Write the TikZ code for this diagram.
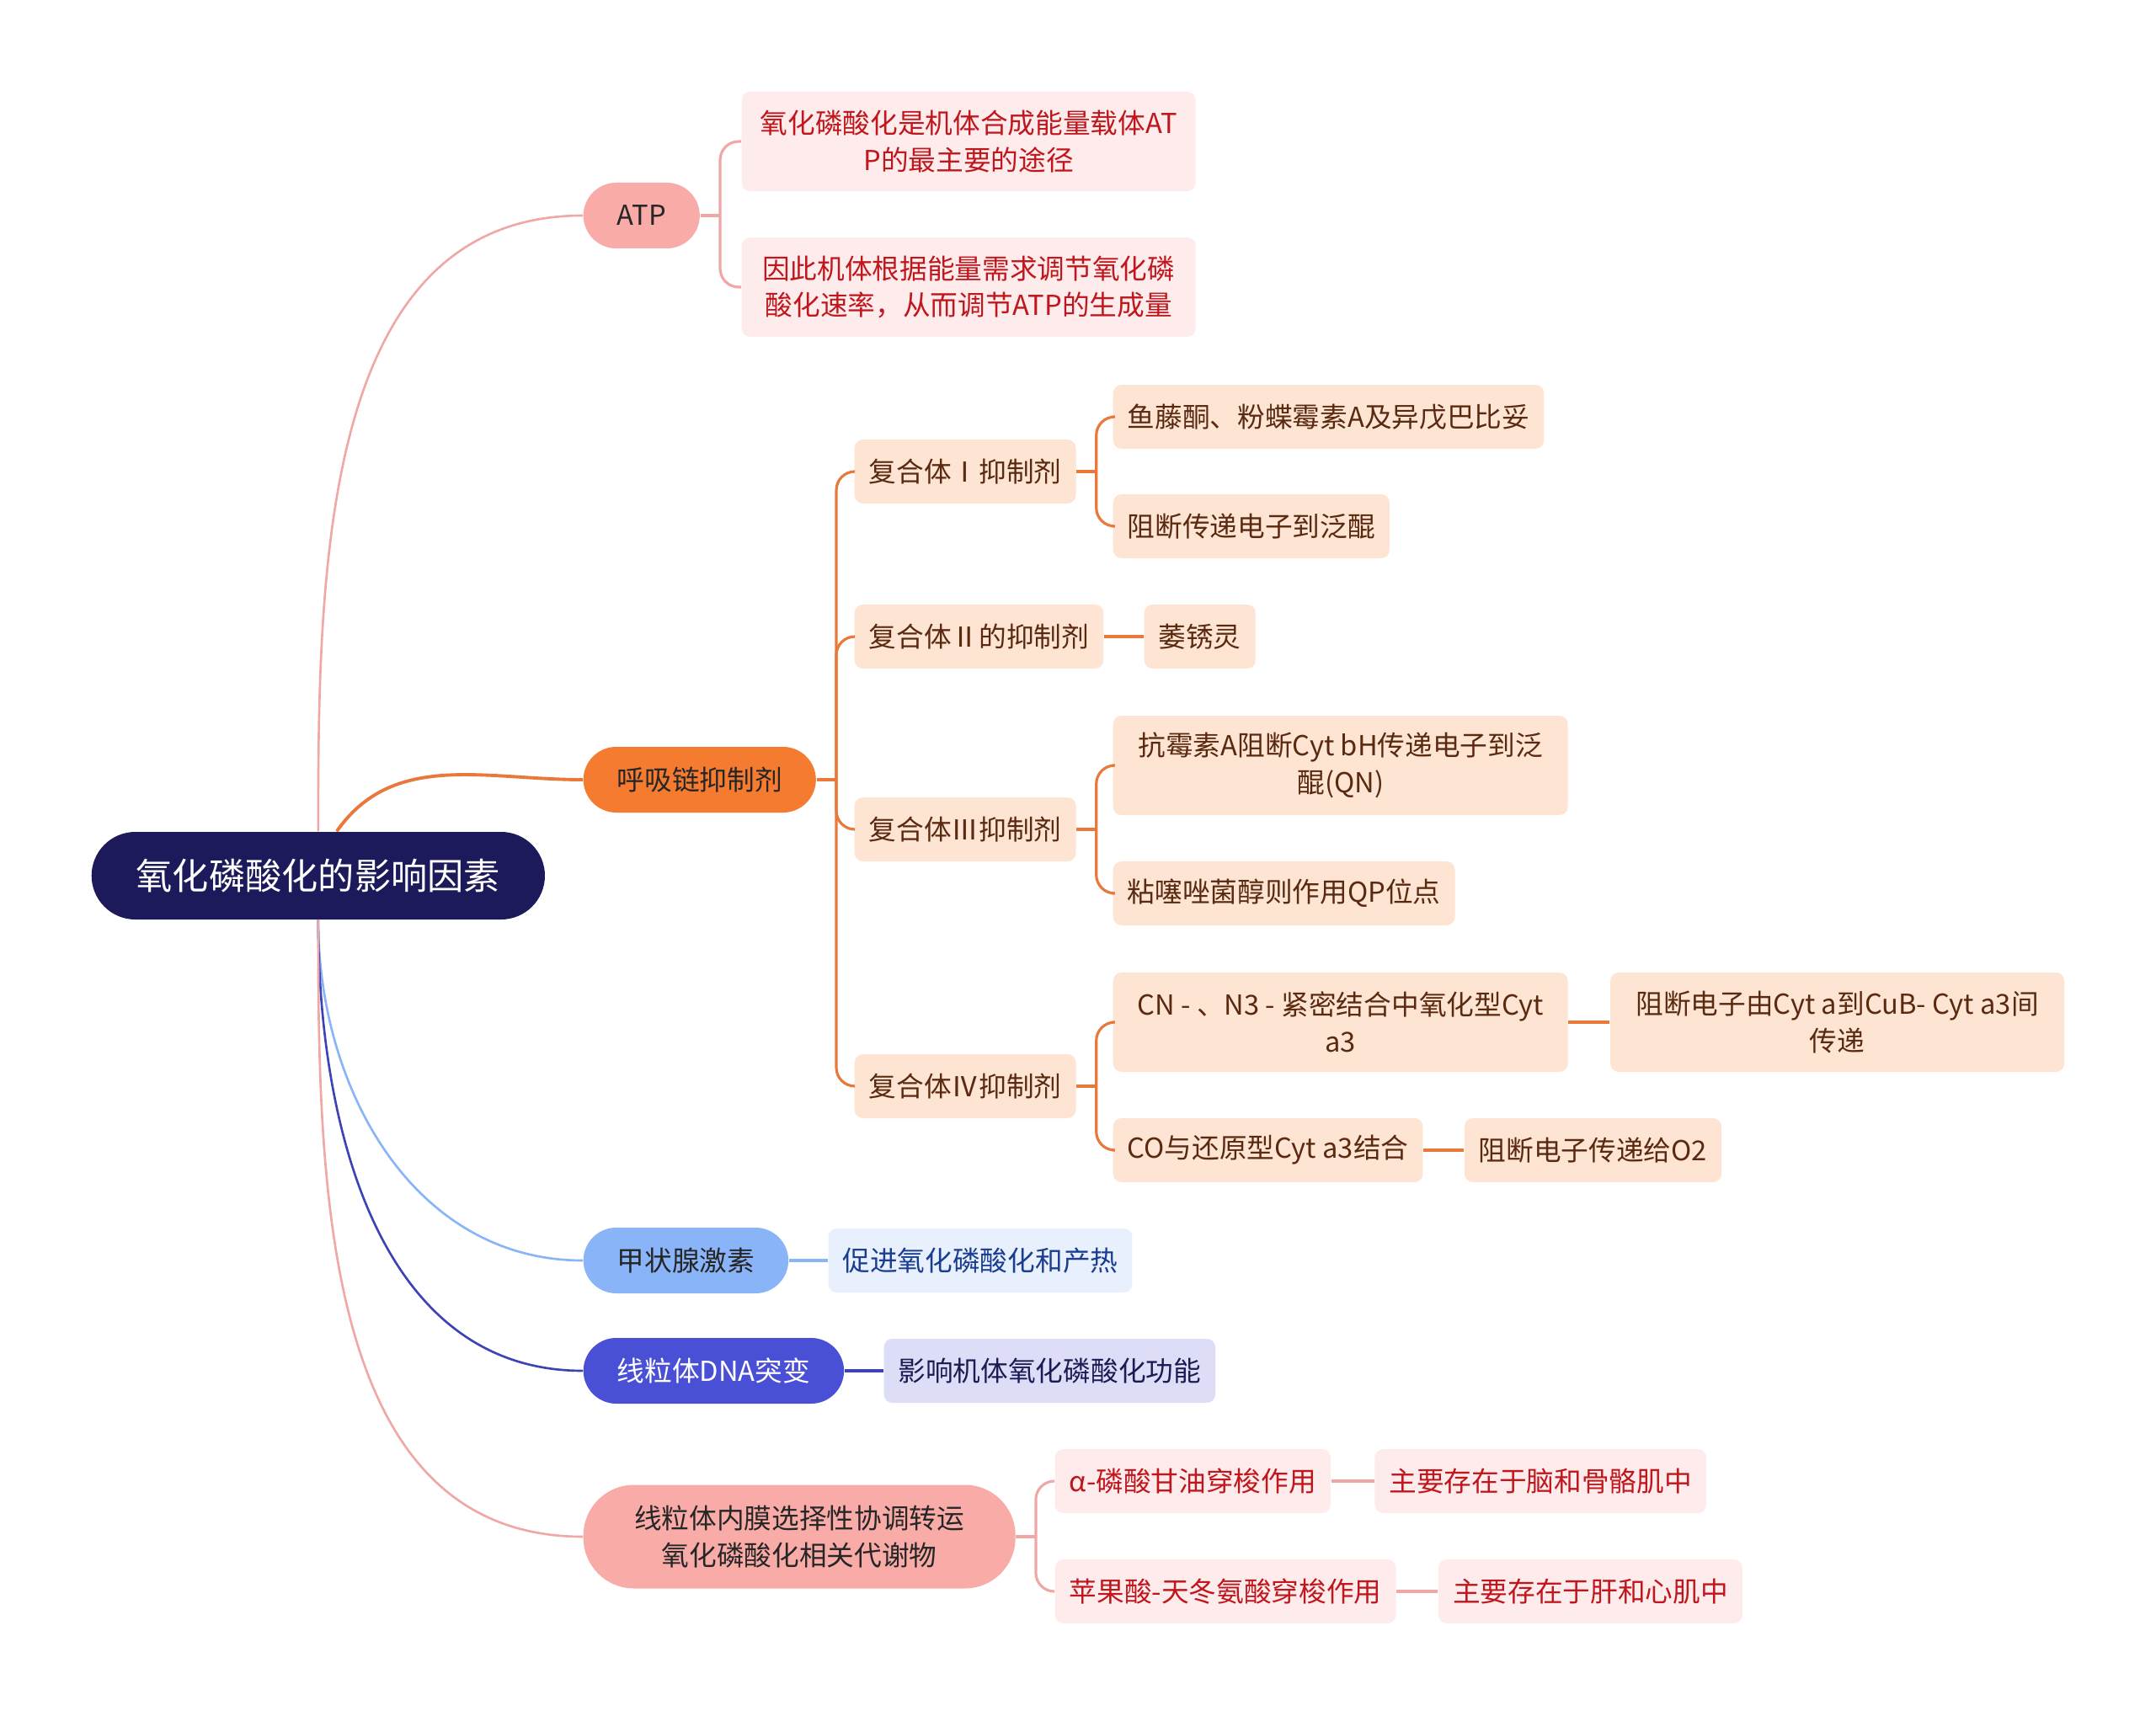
\documentclass[tikz,border=0pt]{standalone}
\usepackage{fontspec}
\setmainfont{Noto Sans CJK SC}
\usepackage{tikz}
\usepackage{xcolor}
\usetikzlibrary{positioning, calc}
\definecolor{MapNavy}{HTML}{1C1A5A}
\definecolor{MapInk}{HTML}{262626}
\definecolor{MapPink}{HTML}{F9ABA8}
\definecolor{MapPinkLine}{HTML}{F0A8A6}
\definecolor{MapPinkLight}{HTML}{FDECEB}
\definecolor{MapRed}{HTML}{C0161D}
\definecolor{MapOrange}{HTML}{F57B30}
\definecolor{MapOrangeLine}{HTML}{E9783B}
\definecolor{MapPeach}{HTML}{FDE4D3}
\definecolor{MapBrown}{HTML}{5A2A10}
\definecolor{MapSky}{HTML}{8AB4F8}
\definecolor{MapSkyLight}{HTML}{E8F0FE}
\definecolor{MapSkyText}{HTML}{1A3D8F}
\definecolor{MapBlue}{HTML}{4A50D6}
\definecolor{MapBlueLine}{HTML}{3C43B4}
\definecolor{MapLavender}{HTML}{DDDDF7}
\definecolor{MapLavenderText}{HTML}{1C1C55}
\tikzset{
    % Node styles
    rootbox/.style={
        rectangle,
        rounded corners=5.2mm,
        fill=MapNavy,
        text=white,
        minimum height=1.04cm,
        inner xsep=5.3mm,
        font=\fontsize{12.3}{15}\selectfont
    },
    topicbox/.style={
        rectangle,
        rounded corners=3.9mm,
        minimum height=0.78cm,
        inner xsep=4mm,
        text=MapInk,
        align=center,
        font=\fontsize{9.3}{12.5}\selectfont
    },
    leafbox/.style={
        rectangle,
        rounded corners=1mm,
        minimum height=0.76cm,
        inner xsep=1.7mm,
        align=center,
        font=\fontsize{9.3}{12.5}\selectfont
    },
    tallbox/.style={
        minimum height=1.18cm
    },
    % Connector styles
    rootlink/.style={
        line width=0.75pt
    },
    forklink/.style={
        line width=0.9pt,
        rounded corners=2.2mm
    }
}
\begin{document}
\begin{tikzpicture}
    \fill[white] (0,0) rectangle (25.6,-20.38);

    % root and main topics
    \node[rootbox, anchor=west] (root) at (1.08,-10.40) {氧化磷酸化的影响因素};

    \node[topicbox, fill=MapPink, anchor=west] (atp) at (6.92,-2.56) {ATP};
    \node[topicbox, fill=MapOrange, anchor=west] (chain) at (6.92,-9.26) {呼吸链抑制剂};
    \node[topicbox, fill=MapSky, anchor=west] (thyroid) at (6.92,-14.97) {甲状腺激素};
    \node[topicbox, fill=MapBlue, text=white, anchor=west] (mtdna) at (6.92,-16.28) {线粒体DNA突变};
    \node[topicbox, fill=MapPink, anchor=west, minimum width=5.13cm, minimum height=1.23cm, rounded corners=6mm] (membrane) at (6.92,-18.25) {线粒体内膜选择性协调转运\\氧化磷酸化相关代谢物};

    % ATP
    \node[leafbox, tallbox, fill=MapPinkLight, text=MapRed, minimum width=5.39cm, anchor=west] (atpway) at (8.80,-1.68) {氧化磷酸化是机体合成能量载体AT\\P的最主要的途径};
    \node[leafbox, tallbox, fill=MapPinkLight, text=MapRed, minimum width=5.39cm, anchor=west] (atprate) at (8.80,-3.41) {因此机体根据能量需求调节氧化磷\\酸化速率，从而调节ATP的生成量};

    % respiratory chain
    \node[leafbox, fill=MapPeach, text=MapBrown, anchor=west] (cplx1) at (10.14,-5.60) {复合体Ⅰ抑制剂};
    \node[leafbox, fill=MapPeach, text=MapBrown, anchor=west] (cplx2) at (10.14,-7.56) {复合体Ⅱ的抑制剂};
    \node[leafbox, fill=MapPeach, text=MapBrown, anchor=west] (cplx3) at (10.14,-9.85) {复合体Ⅲ抑制剂};
    \node[leafbox, fill=MapPeach, text=MapBrown, anchor=west] (cplx4) at (10.14,-12.90) {复合体Ⅳ抑制剂};

    \node[leafbox, fill=MapPeach, text=MapBrown, anchor=west] (rotenone) at (13.21,-4.95) {鱼藤酮、粉蝶霉素A及异戊巴比妥};
    \node[leafbox, fill=MapPeach, text=MapBrown, anchor=west] (blockq) at (13.21,-6.25) {阻断传递电子到泛醌};
    \node[leafbox, fill=MapPeach, text=MapBrown, right=4.7mm of cplx2] (carboxin) {萎锈灵};
    \node[leafbox, tallbox, fill=MapPeach, text=MapBrown, minimum width=5.4cm, anchor=west] (antimycin) at (13.21,-9.09) {抗霉素A阻断Cyt bH传递电子到泛\\醌(QN)};
    \node[leafbox, fill=MapPeach, text=MapBrown, anchor=west] (myxothiazol) at (13.21,-10.61) {粘噻唑菌醇则作用QP位点};
    \node[leafbox, tallbox, fill=MapPeach, text=MapBrown, minimum width=5.4cm, anchor=west] (cyanide) at (13.21,-12.14) {CN - 、N3 - 紧密结合中氧化型Cyt\\a3};
    \node[leafbox, tallbox, fill=MapPeach, text=MapBrown, minimum width=5.39cm, right=4.9mm of cyanide] (blockcub) {阻断电子由Cyt a到CuB- Cyt a3间\\传递};
    \node[leafbox, fill=MapPeach, text=MapBrown, anchor=west] (carbonmono) at (13.21,-13.66) {CO与还原型Cyt a3结合};
    \node[leafbox, fill=MapPeach, text=MapBrown, right=4.8mm of carbonmono] (blockoxy) {阻断电子传递给O2};

    % thyroid, mtDNA
    \node[leafbox, fill=MapSkyLight, text=MapSkyText, right=4.6mm of thyroid] (heat) {促进氧化磷酸化和产热};
    \node[leafbox, fill=MapLavender, text=MapLavenderText, right=4.6mm of mtdna] (function) {影响机体氧化磷酸化功能};

    % shuttles
    \node[leafbox, fill=MapPinkLight, text=MapRed, anchor=west] (glycerol) at (12.52,-17.59) {α-磷酸甘油穿梭作用};
    \node[leafbox, fill=MapPinkLight, text=MapRed, right=5.1mm of glycerol] (brain) {主要存在于脑和骨骼肌中};
    \node[leafbox, fill=MapPinkLight, text=MapRed, anchor=west] (malate) at (12.52,-18.90) {苹果酸-天冬氨酸穿梭作用};
    \node[leafbox, fill=MapPinkLight, text=MapRed, right=4.9mm of malate] (liver) {主要存在于肝和心肌中};

    % root links
    \draw[rootlink, MapPinkLine] (root.north) to[out=90, in=180] (atp.west);
    \draw[rootlink, MapOrangeLine, line width=1.1pt] ([xshift=2.2mm]root.north) to[out=55, in=180] (chain.west);
    \draw[rootlink, MapSky] (root.south) to[out=-90, in=180] (thyroid.west);
    \draw[rootlink, MapBlueLine] (root.south) to[out=-90, in=180] (mtdna.west);
    \draw[rootlink, MapPinkLine] (root.south) to[out=-90, in=180] (membrane.west);

    % forks
    \coordinate (atpfork) at ([xshift=2.35mm]atp.east);
    \draw[forklink, MapPinkLine] (atp.east) -- (atpfork);
    \draw[forklink, MapPinkLine] (atpfork) |- (atpway.west);
    \draw[forklink, MapPinkLine] (atpfork) |- (atprate.west);

    \coordinate (chainfork) at ([xshift=2.35mm]chain.east);
    \draw[forklink, MapOrangeLine] (chain.east) -- (chainfork);
    \draw[forklink, MapOrangeLine] (chainfork) |- (cplx1.west);
    \draw[forklink, MapOrangeLine] (chainfork) |- (cplx2.west);
    \draw[forklink, MapOrangeLine] (chainfork) |- (cplx3.west);
    \draw[forklink, MapOrangeLine] (chainfork) |- (cplx4.west);

    \coordinate (cplx1fork) at ([xshift=2.35mm]cplx1.east);
    \draw[forklink, MapOrangeLine] (cplx1.east) -- (cplx1fork);
    \draw[forklink, MapOrangeLine] (cplx1fork) |- (rotenone.west);
    \draw[forklink, MapOrangeLine] (cplx1fork) |- (blockq.west);
    \draw[forklink, MapOrangeLine] (cplx2) -- (carboxin);

    \coordinate (cplx3fork) at ([xshift=2.35mm]cplx3.east);
    \draw[forklink, MapOrangeLine] (cplx3.east) -- (cplx3fork);
    \draw[forklink, MapOrangeLine] (cplx3fork) |- (antimycin.west);
    \draw[forklink, MapOrangeLine] (cplx3fork) |- (myxothiazol.west);

    \coordinate (cplx4fork) at ([xshift=2.35mm]cplx4.east);
    \draw[forklink, MapOrangeLine] (cplx4.east) -- (cplx4fork);
    \draw[forklink, MapOrangeLine] (cplx4fork) |- (cyanide.west);
    \draw[forklink, MapOrangeLine] (cplx4fork) |- (carbonmono.west);
    \draw[forklink, MapOrangeLine] (cyanide) -- (blockcub);
    \draw[forklink, MapOrangeLine] (carbonmono) -- (blockoxy);

    \draw[forklink, MapSky] (thyroid) -- (heat);
    \draw[forklink, MapBlueLine] (mtdna) -- (function);

    \coordinate (membranefork) at ([xshift=2.35mm]membrane.east);
    \draw[forklink, MapPinkLine] (membrane.east) -- (membranefork);
    \draw[forklink, MapPinkLine] (membranefork) |- (glycerol.west);
    \draw[forklink, MapPinkLine] (membranefork) |- (malate.west);
    \draw[forklink, MapPinkLine] (glycerol) -- (brain);
    \draw[forklink, MapPinkLine] (malate) -- (liver);
\end{tikzpicture}
\end{document}
